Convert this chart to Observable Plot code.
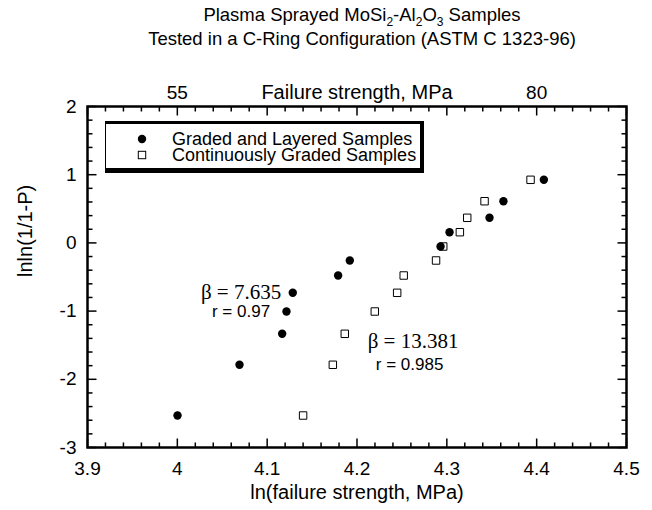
<!DOCTYPE html>
<html><head><meta charset="utf-8">
<script src="https://cdn.jsdelivr.net/npm/d3@7"></script>
<script src="https://cdn.jsdelivr.net/npm/@observablehq/plot@0.6"></script>
<style>
body{margin:0;background:#fff;}
#wrap{position:relative;width:652px;height:510px;font-family:"Liberation Sans",Arial,Helvetica,sans-serif;color:#000;}
#title{position:absolute;left:62px;width:600px;top:3px;text-align:center;font-size:18.5px;line-height:24px;}
#title sub{font-size:12px;line-height:0;vertical-align:-5px;}
#legend{position:absolute;left:105px;top:121px;width:314px;height:44px;border-style:solid;border-color:#000;border-width:3px 4px 5px 1.5px;background:#fff;}
.lg{position:absolute;left:0;height:16px;font-size:18px;line-height:16px;white-space:nowrap;}
.lg span{position:absolute;left:66px;top:0;}
.lg svg{position:absolute;left:31px;top:3px;}
#chart{position:absolute;left:0;top:0;}
</style></head>
<body>
<div id="wrap">
<div id="chart"></div>
<div id="title">Plasma Sprayed MoSi<sub>2</sub>-Al<sub>2</sub>O<sub>3</sub> Samples<br>Tested in a C-Ring Configuration (ASTM C 1323-96)</div>
<div id="legend"></div>
</div>
<script>
// Data
const seriesNames = ["Graded and Layered Samples", "Continuously Graded Samples"];
const gradedX = [4.408, 4.363, 4.3475, 4.303, 4.293, 4.192, 4.179, 4.1285, 4.1215, 4.1167, 4.0692, 4.0002];
const gradedY = [0.925, 0.611, 0.368, 0.157, -0.053, -0.258, -0.478, -0.732, -1.006, -1.333, -1.787, -2.531];
const contX = [4.3932, 4.342, 4.3227, 4.3145, 4.296, 4.288, 4.252, 4.2447, 4.2198, 4.1864, 4.1731, 4.140];
const contY = [0.925, 0.611, 0.368, 0.157, -0.053, -0.258, -0.478, -0.732, -1.006, -1.333, -1.787, -2.531];
const xDomain = [3.9, 4.5];
const yDomain = [-3, 2];
const xTicks = [3.9, 4.0, 4.1, 4.2, 4.3, 4.4, 4.5];
const xMinorTicks = [3.92, 3.94, 3.96, 3.98, 4.02, 4.04, 4.06, 4.08, 4.12, 4.14, 4.16, 4.18, 4.22, 4.24, 4.26, 4.28, 4.32, 4.34, 4.36, 4.38, 4.42, 4.44, 4.46, 4.48];
const yTicks = [-3, -2, -1, 0, 1, 2];
const yMinorTicks = [-2.8, -2.6, -2.4, -2.2, -1.8, -1.6, -1.4, -1.2, -0.8, -0.6, -0.4, -0.2, 0.2, 0.4, 0.6, 0.8, 1.2, 1.4, 1.6, 1.8];
const topTickPos = [4.0, 4.4];
const topTickLabels = ["55", "80"];
const annoText = ["β = 7.635", "r = 0.97", "β = 13.381", "r = 0.985"];
const annoX = [4.0709, 4.0709, 4.2624, 4.2585];
const annoY = [-0.727, -1.006, -1.446, -1.783];
const annoSerif = [true, false, true, false];
const xLabel = "ln(failure strength, MPa)";
const yLabel = "lnln(1/1-P)";
const topLabel = "Failure strength, MPa";

const graded = gradedX.map((x, i) => ({x, y: gradedY[i]}));
const cont = contX.map((x, i) => ({x, y: contY[i]}));
const annos = annoText.map((t, i) => ({t, x: annoX[i], y: annoY[i], serif: annoSerif[i]}));

const SANS = "Liberation Sans, Arial, Helvetica, sans-serif";
const fmt = d => String(+(+d).toFixed(1));
const MAJ = 9, MIN = 5;

// Tick glyphs: custom dot symbols that draw a short line pointing into the frame
const tickSymbol = (dx, dy) => ({draw(ctx) { ctx.moveTo(0, 0); ctx.lineTo(dx, dy); }});
const TICK = {fill: "none", stroke: "black", strokeWidth: 1.5};
// tick anchor points on the frame edges, as objects
const bottomMajor = xTicks.map(v => ({x: v, y: yDomain[0]}));
const bottomMinor = xMinorTicks.map(v => ({x: v, y: yDomain[0]}));
const topMajor = xTicks.map(v => ({x: v, y: yDomain[1]}));
const topMinor = xMinorTicks.map(v => ({x: v, y: yDomain[1]}));
const leftMajor = yTicks.map(v => ({x: xDomain[0], y: v}));
const leftMinor = yMinorTicks.map(v => ({x: xDomain[0], y: v}));
const rightMajor = yTicks.map(v => ({x: xDomain[1], y: v}));
const rightMinor = yMinorTicks.map(v => ({x: xDomain[1], y: v}));

const plot = Plot.plot({
  width: 652, height: 510,
  marginTop: 106, marginBottom: 63, marginLeft: 87, marginRight: 26,
  x: {domain: xDomain},
  y: {domain: yDomain},
  style: {fontFamily: SANS, background: "white", color: "black", overflow: "visible"},
  marks: [
    // tick labels
    Plot.axisX(xTicks, {anchor: "bottom", tickSize: 0, tickPadding: 14, fontSize: 19, tickFormat: fmt, label: null}),
    Plot.axisY(yTicks, {anchor: "left", tickSize: 0, tickPadding: 11, fontSize: 19, tickFormat: d => String(d), label: null}),
    Plot.axisX(topTickPos, {anchor: "top", tickSize: 0, tickPadding: 8, fontSize: 19, tickFormat: (d, i) => topTickLabels[i], label: null}),
    Plot.frame({strokeWidth: 2.5}),
    // inward ticks on all four sides
    Plot.dot(bottomMajor, {x: "x", y: "y", symbol: tickSymbol(0, -MAJ), ...TICK}),
    Plot.dot(bottomMinor, {x: "x", y: "y", symbol: tickSymbol(0, -MIN), ...TICK}),
    Plot.dot(topMajor, {x: "x", y: "y", symbol: tickSymbol(0, MAJ), ...TICK}),
    Plot.dot(topMinor, {x: "x", y: "y", symbol: tickSymbol(0, MIN), ...TICK}),
    Plot.dot(leftMajor, {x: "x", y: "y", symbol: tickSymbol(MAJ, 0), ...TICK}),
    Plot.dot(leftMinor, {x: "x", y: "y", symbol: tickSymbol(MIN, 0), ...TICK}),
    Plot.dot(rightMajor, {x: "x", y: "y", symbol: tickSymbol(-MAJ, 0), ...TICK}),
    Plot.dot(rightMinor, {x: "x", y: "y", symbol: tickSymbol(-MIN, 0), ...TICK}),
    // data
    Plot.dot(cont, {x: "x", y: "y", symbol: "square", r: 4.2, fill: "white", stroke: "black", strokeWidth: 1}),
    Plot.dot(graded, {x: "x", y: "y", symbol: "circle", r: 4.2, fill: "black"}),
    Plot.text(annos.filter(d => d.serif), {x: "x", y: "y", text: "t", fontFamily: "Liberation Serif, Times New Roman, serif", fontSize: 21, textAnchor: "middle"}),
    Plot.text(annos.filter(d => !d.serif), {x: "x", y: "y", text: "t", fontSize: 17, textAnchor: "middle"}),
    Plot.text([topLabel], {text: d => d, frameAnchor: "top", lineAnchor: "middle", dy: -14, fontSize: 20}),
    Plot.text([xLabel], {text: d => d, frameAnchor: "bottom", lineAnchor: "middle", dy: 45, fontSize: 20}),
    Plot.text([yLabel], {text: d => d, frameAnchor: "left", lineAnchor: "middle", dx: -62, rotate: -90, fontSize: 20})
  ]
});
document.getElementById("chart").appendChild(plot);

// Legend
const lg = document.getElementById("legend");
seriesNames.forEach((name, i) => {
  const row = document.createElement("div");
  row.className = "lg";
  row.style.top = (7 + i * 16) + "px";
  const sym = i === 0
    ? '<svg width="10" height="10"><circle cx="5" cy="5" r="4.2" fill="black"/></svg>'
    : '<svg width="10" height="10"><rect x="1.3" y="1.3" width="7.4" height="7.4" fill="white" stroke="black" stroke-width="1"/></svg>';
  row.innerHTML = sym + '<span>' + name + '</span>';
  lg.appendChild(row);
});
</script>
</body></html>
